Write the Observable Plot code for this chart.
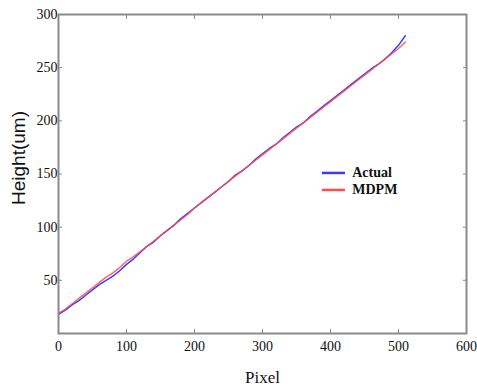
<!DOCTYPE html>
<html>
<head>
<meta charset="utf-8">
<script src="https://cdn.jsdelivr.net/npm/d3@7"></script>
<script src="https://cdn.jsdelivr.net/npm/@observablehq/plot@0.6"></script>
<style>
  body { margin: 0; background: #fff; }
  #chart { width: 477px; height: 392px; }
</style>
</head>
<body>
<div id="chart"></div>
<script>
const pixel = [0,10,20,30,40,50,60,70,80,90,100,110,120,130,140,150,160,170,180,190,200,210,220,230,240,250,260,270,280,290,300,310,320,330,340,350,360,370,380,390,400,410,420,430,440,450,460,470,480,490,500,510];
const actual = [18,22,27,31,36,41,46,50,54,59,65,70,76,82,86,92,97,102,108,113,118,123,128,133,138,143,149,153,158,164,169,174,178,184,189,194,198,204,209,214,219,224,229,234,239,244,249,253,258,264,271,280];
const mdpm = [19,23,28,33,38,43,48,53,57,62,68,72,77,82,87,92,97,102,107,112,118,123,128,133,138,143,148,153,158,163,168,173,178,183,188,193,198,203,208,213,218,223,228,233,238,243,248,253,258,263,268,274];
const seriesNames = ["Actual", "MDPM"];
const seriesColors = ["#3b3bff", "#ff4d4d"];
const xTicks = [0,100,200,300,400,500,600];
const yTicks = [50,100,150,200,250,300];

const rows = [];
pixel.forEach((p, i) => {
  rows.push({pixel: p, height: actual[i], series: seriesNames[0]});
  rows.push({pixel: p, height: mdpm[i], series: seriesNames[1]});
});

const legendRows = seriesNames.map((s, i) => ({series: s, color: seriesColors[i], y: 151 - i * 16}));

const plot = Plot.plot({
  width: 477,
  height: 392,
  marginLeft: 58,
  marginRight: 11,
  marginTop: 14,
  marginBottom: 59,
  x: {domain: [0, 600]},
  y: {domain: [0, 300]},
  style: {background: "#fff"},
  marks: [
    Plot.line(rows.filter(d => d.series === "Actual"), {x: "pixel", y: "height", stroke: seriesColors[0], strokeWidth: 1.5}),
    Plot.line(rows.filter(d => d.series === "MDPM"), {x: "pixel", y: "height", stroke: seriesColors[1], strokeWidth: 1.5, strokeOpacity: 0.85}),
    Plot.frame({stroke: "#8a8a8a", strokeWidth: 2}),
    Plot.axisX({anchor: "bottom", ticks: xTicks, tickSize: -4, tickPadding: 12, stroke: "#8a8a8a", fontSize: 14, fontFamily: "Liberation Serif", label: "Pixel", labelAnchor: "center", labelArrow: "none", labelOffset: 49}),
    Plot.axisX({anchor: "top", ticks: xTicks.slice(1, -1), tickSize: -4, tickFormat: () => "", stroke: "#8a8a8a", label: null}),
    Plot.axisY({anchor: "left", ticks: yTicks, tickSize: -4, tickPadding: 5, stroke: "#8a8a8a", fontSize: 14, fontFamily: "Liberation Serif", label: null}),
    Plot.axisY({anchor: "right", ticks: yTicks.slice(0, -1), tickSize: -4, tickFormat: () => "", stroke: "#8a8a8a", label: null}),
    Plot.ruleY(legendRows, {x1: 388, x2: 422, y: "y", stroke: "color", strokeWidth: 2.5}),
    Plot.text(legendRows, {x: 432, y: "y", text: "series", textAnchor: "start", fontSize: 14, fontWeight: "bold", fontFamily: "Liberation Serif", fill: "#111"})
  ]
});

const svg = d3.select(plot);
svg.style("font-family", "Liberation Serif").style("color", "#111");
svg.selectAll("[aria-label='x-axis label'] text, [aria-label='x-axis label']").style("font-size", "17px");
// y-axis title
svg.append("text")
  .attr("transform", "translate(25,158) rotate(-90)")
  .attr("text-anchor", "middle")
  .attr("font-family", "Liberation Sans")
  .attr("font-size", 19)
  .attr("fill", "#111")
  .text("Height(um)");
document.getElementById("chart").appendChild(plot);
</script>
</body>
</html>
